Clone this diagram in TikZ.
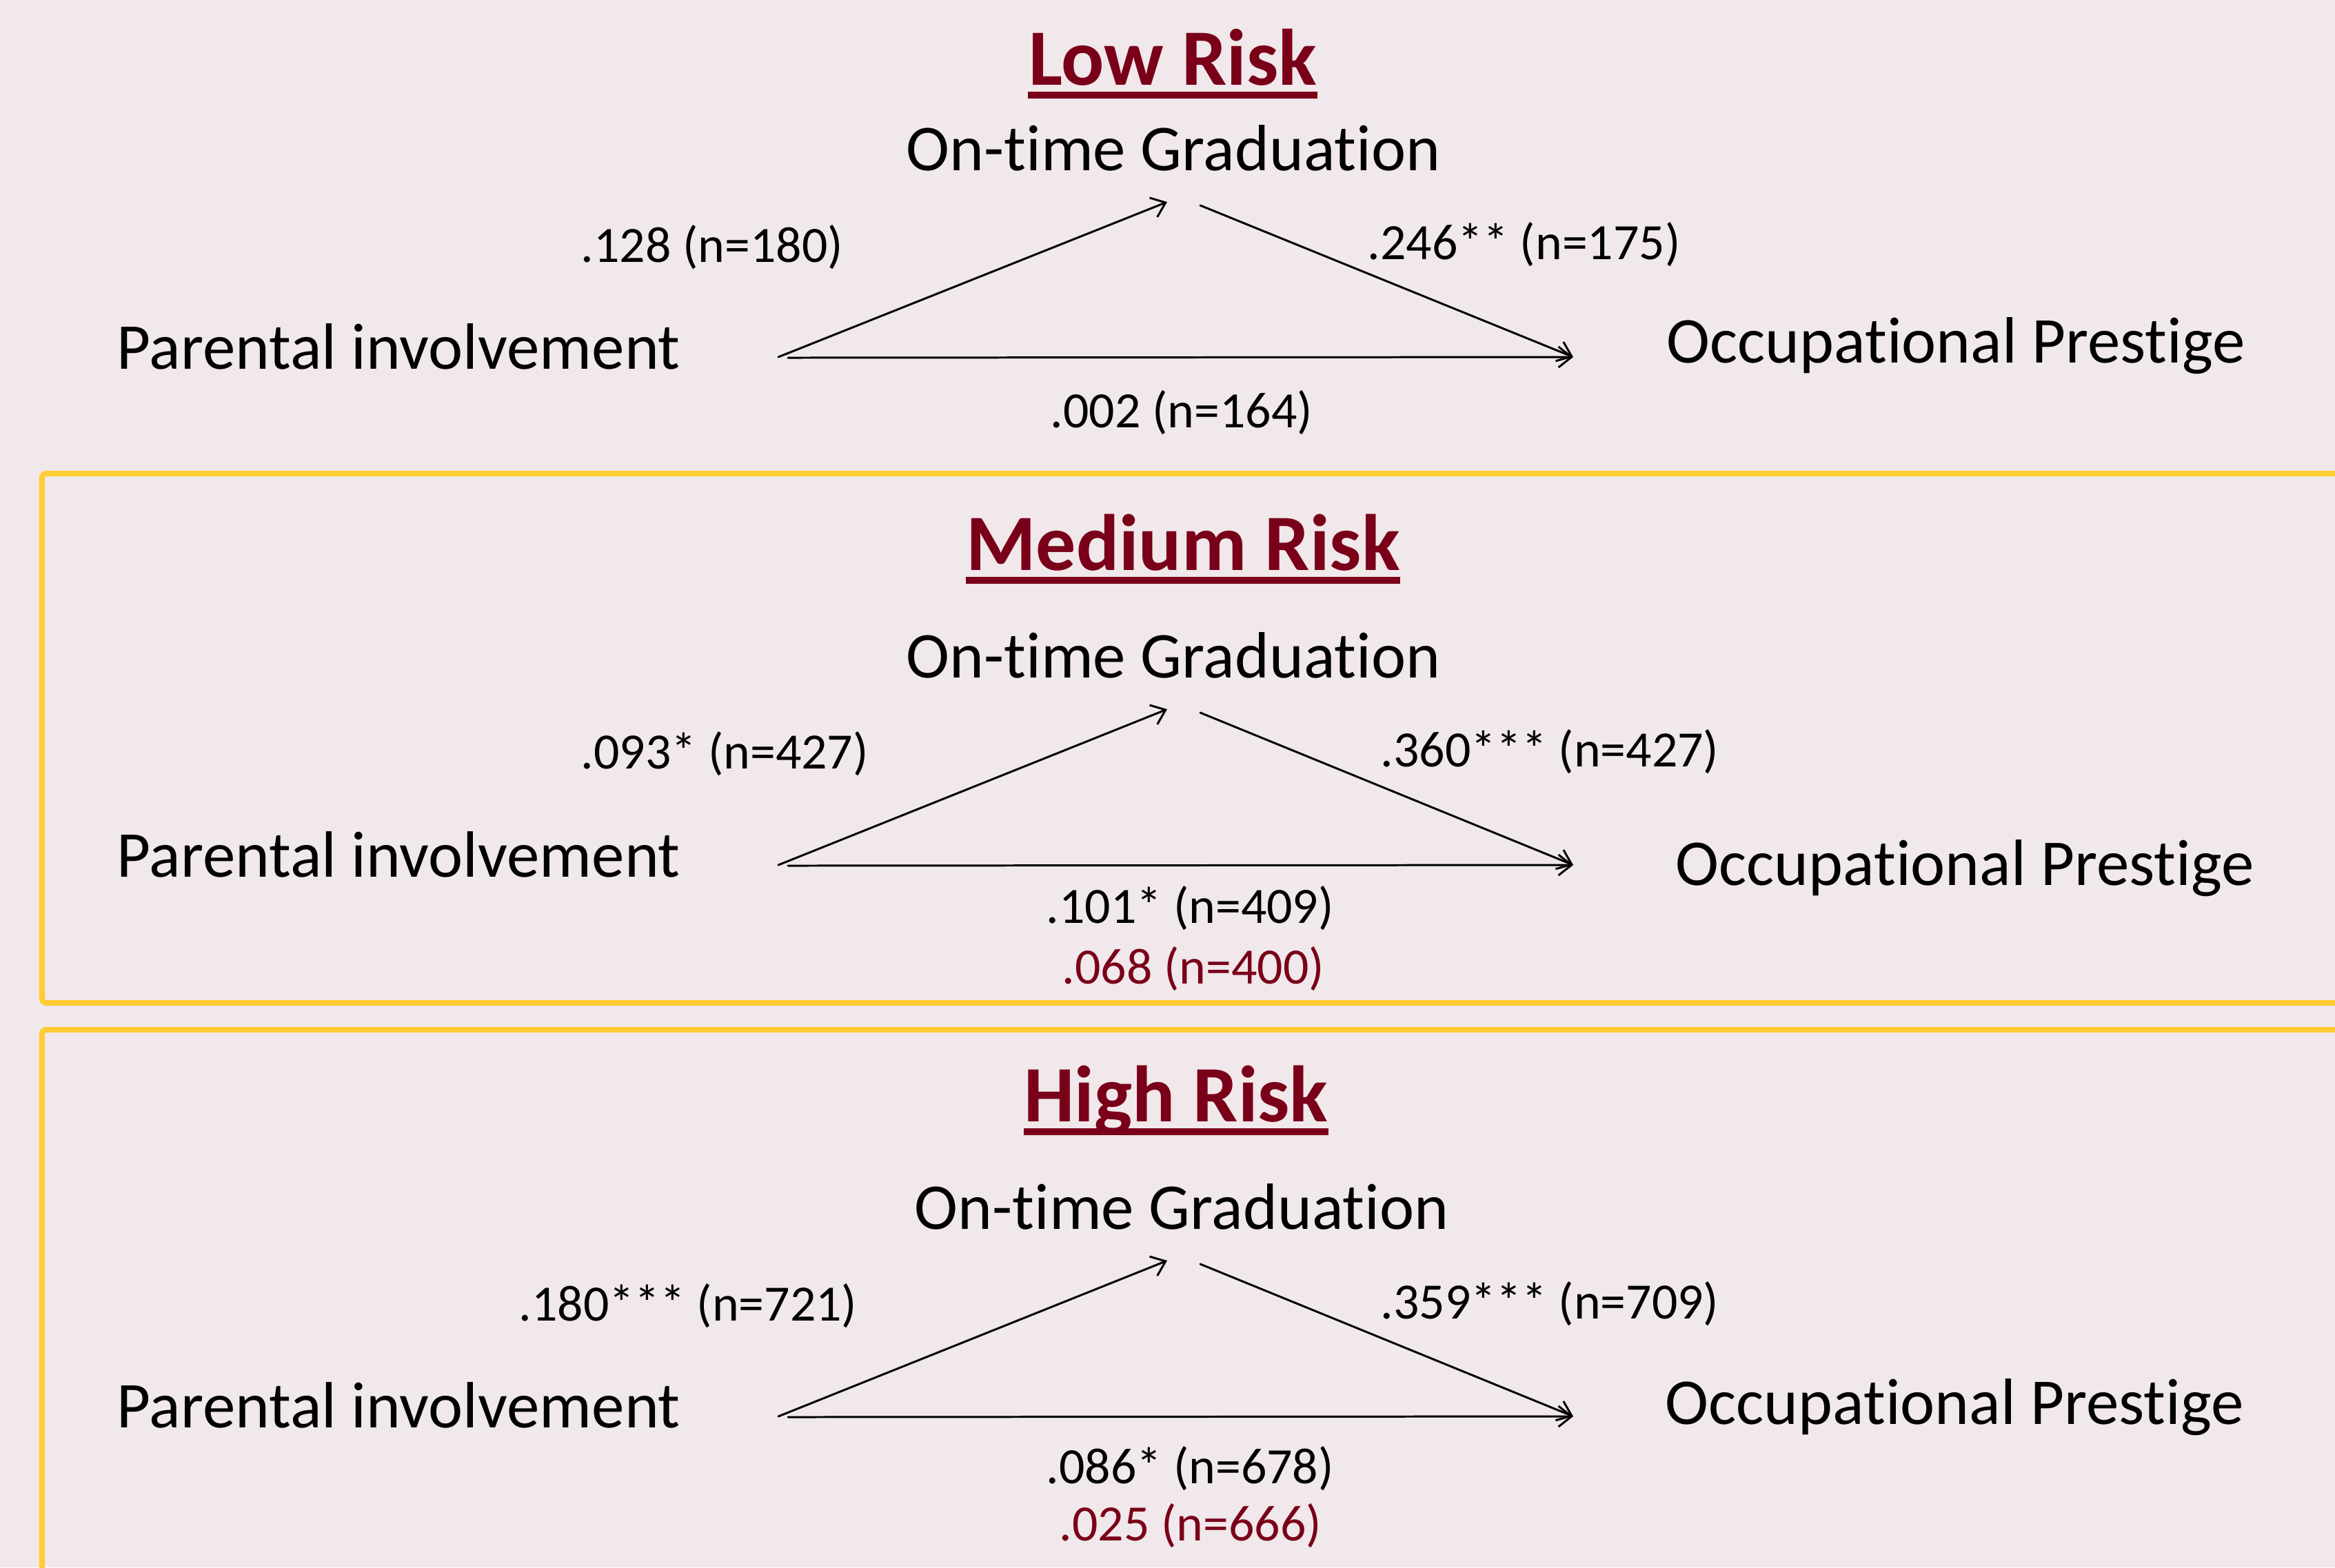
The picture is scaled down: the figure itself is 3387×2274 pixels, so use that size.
\documentclass[tikz,border=0pt]{standalone}
\usepackage{fontspec}
\setmainfont{Carlito}[Ligatures=NoCommon]
\usetikzlibrary{arrows.meta}
\definecolor{maroon}{HTML}{7A0019}
\definecolor{gold}{HTML}{FFCC33}
\definecolor{bgc}{HTML}{F0E8EA}
\tikzset{
  title/.style={font=\fontsize{33}{40}\selectfont\bfseries, text=maroon, inner sep=0pt, anchor=base},
  var/.style={font=\fontsize{27}{32}\selectfont, inner sep=0pt},
  coef/.style={font=\fontsize{21}{25}\selectfont, inner sep=0pt},
  redcoef/.style={coef, text=maroon},
  pathline/.style={line width=0.85pt, line cap=round},
  patharrow/.style={pathline, -{Straight Barb[length=1.9mm,width=3mm,line width=0.85pt]}},
  frame/.style={draw=gold, line width=0.08cm, rounded corners=0.06cm},
  uline/.style={fill=maroon}
}
\begin{document}
\begin{tikzpicture}[x=0.01cm,y=-0.01cm]
\useasboundingbox (0,0) rectangle (3387,2274);
\clip (0,0) rectangle (3387,2274);
\fill[bgc] (0,0) rectangle (3387,2274);

% frames
\draw[frame] (3420,687) -- (61,687) -- (61,1455) -- (3420,1455);
\draw[frame] (3420,1494) -- (61,1494) -- (61,2320);

% ---------- Low risk ----------
\node[title] (tl) at (1701,123) {Low Risk};
\fill[uline] ([yshift=-0.1cm]tl.base west) rectangle ([yshift=-0.2cm]tl.base east);
\node[var, anchor=base] (ogl) at (1702,247) {On-time Graduation};
\node[var, anchor=base west] (pil) at (169,535) {Parental involvement};
\node[var, anchor=base west] (opl) at (2417,526) {Occupational Prestige};
\node[coef, anchor=base west] (al) at (842,380) {.128 (n=180)};
\node[coef, anchor=base west] (bl) at (1983,376) {.246** (n=175)};
\node[coef, anchor=base west] (cl) at (1523,620) {.002 (n=164)};
\coordinate (Ll) at (1129,518);
\coordinate (Tl) at (1693,293);
\coordinate (Sl) at (1741,298);
\coordinate (Rl) at (2282,518);
\coordinate (Hl) at (1143,519);
\draw[patharrow] (Ll) -- (Tl);
\draw[patharrow] (Sl) -- (Rl);
\draw[patharrow] (Hl) -- (Rl);

% ---------- Medium risk ----------
\node[title] (tm) at (1716,827) {Medium Risk};
\fill[uline] ([yshift=-0.1cm]tm.base west) rectangle ([yshift=-0.2cm]tm.base east);
\node[var, anchor=base] (ogm) at (1702,983) {On-time Graduation};
\node[var, anchor=base west] (pim) at (169,1272) {Parental involvement};
\node[var, anchor=base west] (opm) at (2430,1284) {Occupational Prestige};
\node[coef, anchor=base west] (am) at (842,1115) {.093* (n=427)};
\node[coef, anchor=base west] (bm) at (2002,1112) {.360*** (n=427)};
\node[coef, anchor=base west] (cm) at (1517,1339) {.101* (n=409)};
\node[redcoef, anchor=base west] (dm) at (1540,1427) {.068 (n=400)};
\coordinate (Lm) at (1129,1255);
\coordinate (Tm) at (1693,1029);
\coordinate (Sm) at (1741,1034);
\coordinate (Rm) at (2282,1255);
\coordinate (Hm) at (1143,1256);
\draw[patharrow] (Lm) -- (Tm);
\draw[patharrow] (Sm) -- (Rm);
\draw[patharrow] (Hm) -- (Rm);

% ---------- High risk ----------
\node[title] (th) at (1706,1627) {High Risk};
\fill[uline] ([yshift=-0.1cm]th.base west) rectangle ([yshift=-0.2cm]th.base east);
\node[var, anchor=base] (ogh) at (1714,1783) {On-time Graduation};
\node[var, anchor=base west] (pih) at (169,2071) {Parental involvement};
\node[var, anchor=base west] (oph) at (2415,2066) {Occupational Prestige};
\node[coef, anchor=base west] (ah) at (752,1916) {.180*** (n=721)};
\node[coef, anchor=base west] (bh) at (2002,1913) {.359*** (n=709)};
\node[coef, anchor=base west] (ch) at (1517,2152) {.086* (n=678)};
\node[redcoef, anchor=base west] (dh) at (1536,2235) {.025 (n=666)};
\coordinate (Lh) at (1129,2055);
\coordinate (Th) at (1693,1829);
\coordinate (Sh) at (1741,1834);
\coordinate (Rh) at (2282,2055);
\coordinate (Hh) at (1143,2056);
\draw[patharrow] (Lh) -- (Th);
\draw[patharrow] (Sh) -- (Rh);
\draw[patharrow] (Hh) -- (Rh);
\end{tikzpicture}
\end{document}
